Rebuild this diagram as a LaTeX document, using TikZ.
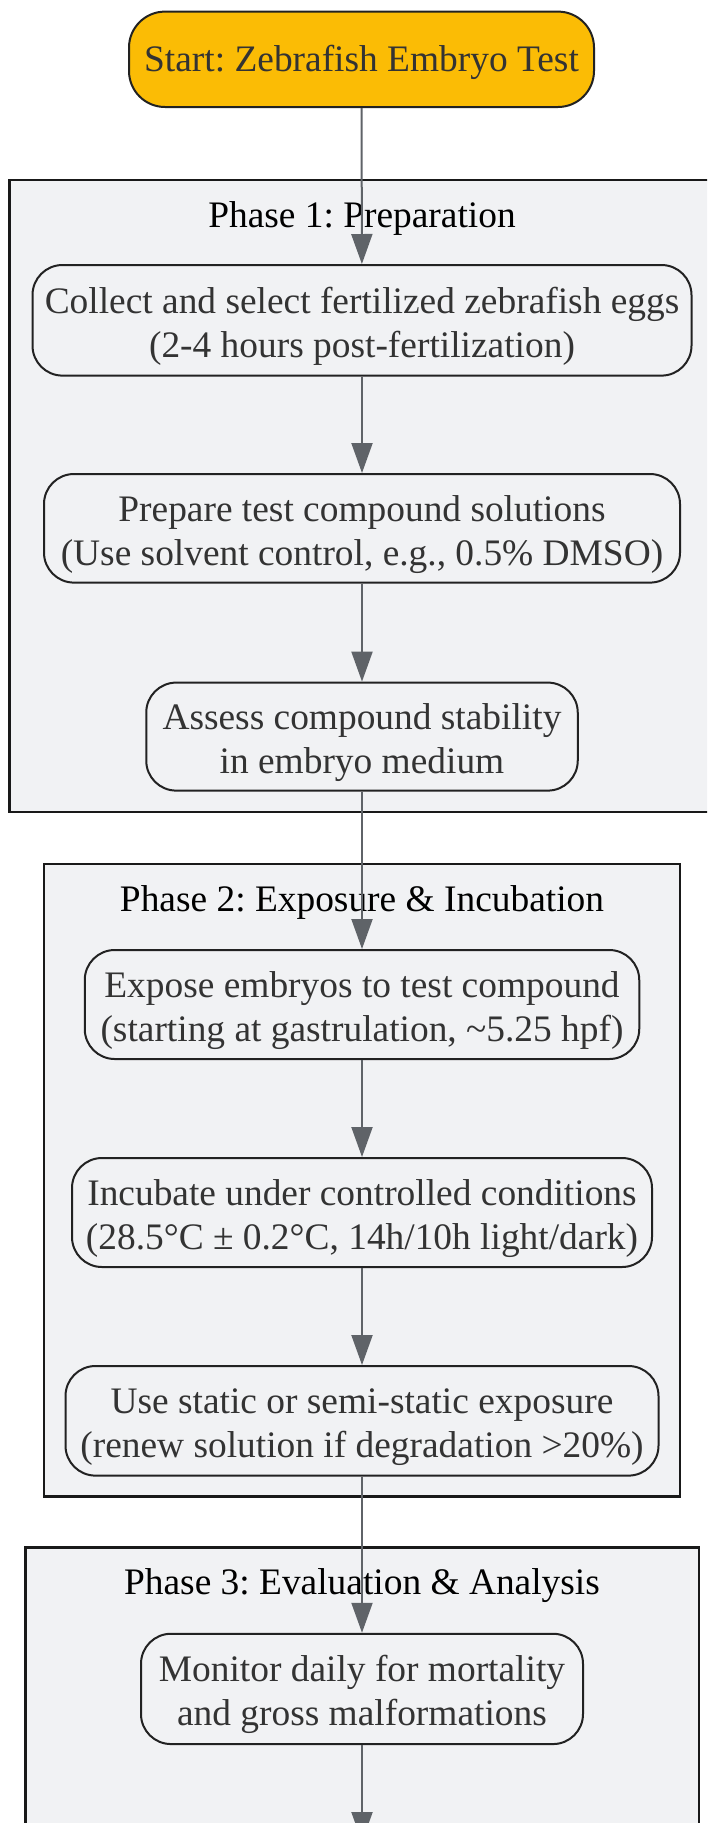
\documentclass[tikz,border=0pt]{standalone}
\usepackage{fontspec}
\setmainfont{Liberation Serif}
\usetikzlibrary{arrows.meta}
\definecolor{startfill}{HTML}{FBBC05}
\definecolor{boxfill}{HTML}{F1F2F4}
\definecolor{edgecol}{HTML}{5F6368}
\definecolor{txt}{HTML}{333333}
\definecolor{bord}{HTML}{222222}
\newcommand\lwrtext[2]{\raisebox{-#1}[\height][\depth]{\begin{tabular}{@{}c@{}}#2\end{tabular}}}
\frenchspacing
\begin{document}
\begin{tikzpicture}[x=1pt,y=-1pt,
  stepbox/.style={draw=bord, line width=2pt, fill=boxfill, rounded corners=30pt,
    align=center, text=txt, font=\fontsize{37.4}{44}\selectfont, inner sep=0pt},
  startbox/.style={stepbox, fill=startfill, rounded corners=36pt},
  cluster/.style={draw=black!90, line width=2.5pt, fill=boxfill},
  ctitle/.style={text=black, font=\fontsize{37.4}{44}\selectfont, inner sep=0pt},
  flow/.style={draw=edgecol, line width=2pt, -{Triangle[width=21pt,length=30pt]}}]
\clip (0,0) rectangle (707,1823);
\useasboundingbox (0,0) rectangle (707,1823);
% clusters
\draw[cluster] (9.3,180) rectangle (730,812);
\node[ctitle] (t1) at (362,218.5) {Phase 1: Preparation};
\draw[cluster] (44,864) rectangle (680,1496.6);
\node[ctitle] (t2) at (362,902.5) {Phase 2: Exposure \& Incubation};
\draw[cluster] (25.6,1547.7) rectangle (699,1900);
\node[ctitle] (t3) at (362,1586) {Phase 3: Evaluation \& Analysis};
% nodes
\node[startbox, minimum width=465pt, minimum height=95.4pt] (s) at (361.5,59.3) {\lwrtext{3.5pt}{Start: Zebrafish Embryo Test}};
\node[stepbox, minimum width=659pt, minimum height=110.6pt] (n1) at (362,320.3) {\lwrtext{6pt}{Collect and select fertilized zebrafish eggs\\(2-4 hours post-fertilization)}};
\node[stepbox, minimum width=636pt, minimum height=108.6pt] (n2) at (362,528.3) {\lwrtext{6pt}{Prepare test compound solutions\\(Use solvent control, e.g., 0.5\% DMSO)}};
\node[stepbox, minimum width=431.5pt, minimum height=108pt] (n3) at (362,736.6) {\lwrtext{6pt}{Assess compound stability\\in embryo medium}};
\node[stepbox, minimum width=554.5pt, minimum height=109pt] (n4) at (362,1004.5) {\lwrtext{6pt}{Expose embryos to test compound\\(starting at gastrulation, \textasciitilde5.25 hpf)}};
\node[stepbox, minimum width=580pt, minimum height=109pt] (n5) at (362,1212.5) {\lwrtext{6pt}{Incubate under controlled conditions\\(28.5°C ± 0.2°C, 14h/10h light/dark)}};
\node[stepbox, minimum width=593pt, minimum height=109.6pt] (n6) at (362,1420.8) {\lwrtext{6pt}{Use static or semi-static exposure\\(renew solution if degradation >20\%)}};
\node[stepbox, minimum width=442pt, minimum height=110.3pt] (n7) at (362,1688.9) {\lwrtext{6pt}{Monitor daily for mortality\\and gross malformations}};
\coordinate (e) at (362,1842);
% connectors
\draw[flow] (s) -- (n1);
\draw[flow] (n1) -- (n2);
\draw[flow] (n2) -- (n3);
\draw[flow] (n3) -- (n4);
\draw[flow] (n4) -- (n5);
\draw[flow] (n5) -- (n6);
\draw[flow] (n6) -- (n7);
\draw[flow] (n7) -- (e);
\end{tikzpicture}
\end{document}
